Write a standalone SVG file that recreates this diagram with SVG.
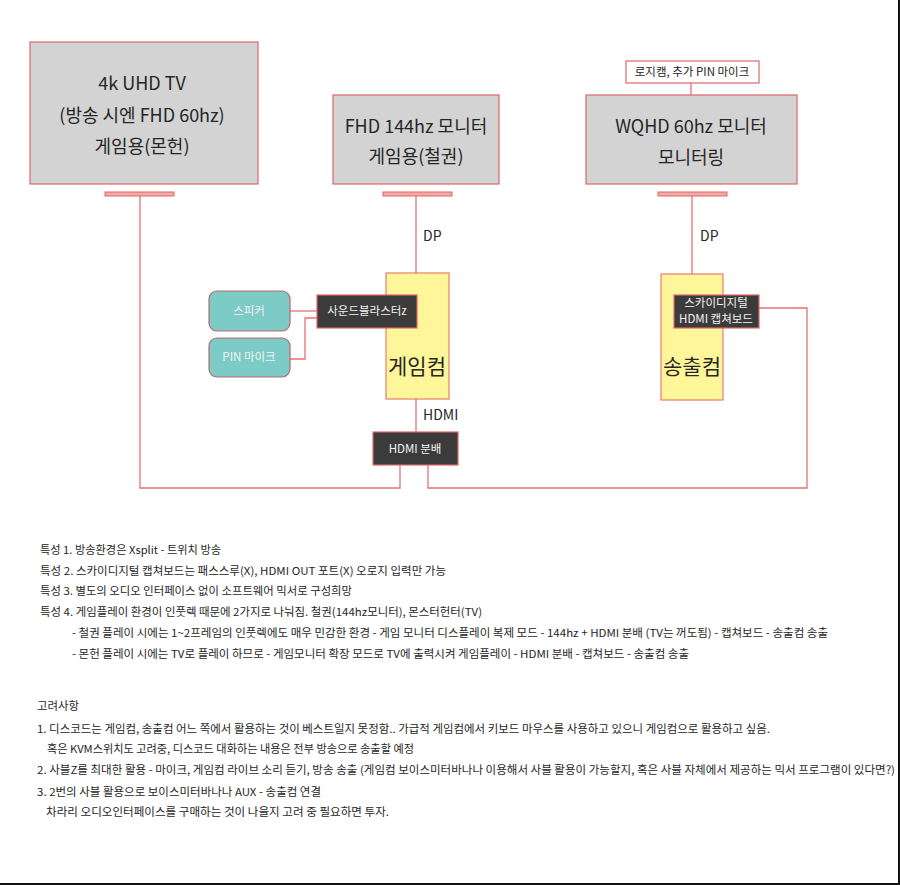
<svg xmlns="http://www.w3.org/2000/svg" width="900" height="885" viewBox="0 0 900 885">
<style>
text{font-family:"Noto Sans CJK KR","Noto Sans",sans-serif;fill:#262626}
.mon{fill:#d3d3d3;stroke:#e06666;stroke-width:1.2}
.stand{fill:#f2a9a9;stroke:#e06666;stroke-width:1}
.pc{fill:#fff599;stroke:#ea7d6a;stroke-width:1.2}
.dark{fill:#3b3b3b;stroke:#e06666;stroke-width:1.2}
.teal{fill:#7ccbc6;stroke:#b86a6a;stroke-width:1.2}
.lbl{fill:#fff;stroke:#e06666;stroke-width:1.2}
.c{fill:none;stroke:#e57373;stroke-width:1.3}
.big{font-size:18px;text-anchor:middle}
.wt{fill:#f2f2f2;font-size:11.5px;text-anchor:middle}
.sm{font-size:11px}
.mid{font-size:14px}
</style>
<rect x="0" y="0" width="900" height="885" fill="#fff"/>
<g id="connectors">
<path class="c" d="M140 196 V488 H400 V465"/>
<path class="c" d="M428 465 V488 H807 V308 H759"/>
<path class="c" d="M416 196 V273"/>
<path class="c" d="M416 399 V432"/>
<path class="c" d="M692 196 V274"/>
<path class="c" d="M691 83 V95"/>
<path class="c" d="M290 311 H317"/>
<path class="c" d="M290 359 H305 V318 H317"/>
</g>
<g id="tv">
<rect class="mon" x="30" y="42" width="228" height="142"/>
<rect class="stand" x="105" y="192" width="69" height="4"/>
<text class="big" x="142" y="90">4k UHD TV</text>
<text class="big" x="142" y="122">(방송 시엔 FHD 60hz)</text>
<text class="big" x="142" y="153">게임용(몬헌)</text>
</g>
<g id="fhd">
<rect class="mon" x="333" y="95" width="166" height="89"/>
<rect class="stand" x="383" y="192" width="69" height="4"/>
<text class="big" x="416" y="133">FHD 144hz 모니터</text>
<text class="big" x="416" y="163">게임용(철권)</text>
</g>
<g id="wqhd">
<rect class="mon" x="586" y="95" width="211" height="89"/>
<rect class="stand" x="658" y="192" width="69" height="4"/>
<text class="big" x="691" y="133">WQHD 60hz 모니터</text>
<text class="big" x="691" y="164">모니터링</text>
</g>
<g id="logicam">
<rect class="lbl" x="626" y="61" width="133" height="22"/>
<text x="692" y="76" font-size="11.5" text-anchor="middle">로지캠, 추가 PIN 마이크</text>
</g>
<g id="dp1"><text class="mid" x="423" y="241">DP</text></g>
<g id="dp2"><text class="mid" x="700" y="241">DP</text></g>
<g id="hdmi-label"><text class="mid" x="423" y="420">HDMI</text></g>
<g id="gamepc">
<rect class="pc" x="386" y="273" width="63" height="126"/>
<text x="417" y="374" font-size="21" text-anchor="middle">게임컴</text>
</g>
<g id="broadcastpc">
<rect class="pc" x="661" y="274" width="62" height="126"/>
<text x="692" y="374" font-size="21" text-anchor="middle">송출컴</text>
</g>
<g id="soundblaster">
<rect class="dark" x="317" y="295" width="100" height="33"/>
<text class="wt" x="367" y="315">사운드블라스터z</text>
</g>
<g id="capture">
<rect class="dark" x="674" y="295" width="85" height="33"/>
<text class="wt" x="716" y="307">스카이디지털</text>
<text class="wt" x="716" y="323">HDMI 캡쳐보드</text>
</g>
<g id="speaker">
<rect class="teal" x="209" y="291" width="81" height="40" rx="8"/>
<text class="wt" x="249" y="315">스피커</text>
</g>
<g id="pinmic">
<rect class="teal" x="209" y="338" width="81" height="39" rx="8"/>
<text class="wt" x="249" y="361">PIN 마이크</text>
</g>
<g id="hdmisplit">
<rect class="dark" x="373" y="432" width="85" height="33"/>
<text class="wt" x="415" y="453">HDMI 분배</text>
</g>
<g id="notes">
<text class="sm" x="40" y="554" textLength="181" lengthAdjust="spacingAndGlyphs">특성 1. 방송환경은 Xsplit - 트위치 방송</text>
<text class="sm" x="40" y="575" textLength="406" lengthAdjust="spacingAndGlyphs">특성 2. 스카이디지털 캡쳐보드는 패스스루(X), HDMI OUT 포트(X) 오로지 입력만 가능</text>
<text class="sm" x="40" y="595" textLength="312" lengthAdjust="spacingAndGlyphs">특성 3. 별도의 오디오 인터페이스 없이 소프트웨어 믹서로 구성희망</text>
<text class="sm" x="40" y="616" textLength="442" lengthAdjust="spacingAndGlyphs">특성 4. 게임플레이 환경이 인풋렉 때문에 2가지로 나눠짐. 철권(144hz모니터), 몬스터헌터(TV)</text>
<text class="sm" x="72" y="637" textLength="756" lengthAdjust="spacingAndGlyphs">- 철권 플레이 시에는 1~2프레임의 인풋렉에도 매우 민감한 환경 - 게임 모니터 디스플레이 복제 모드 - 144hz + HDMI 분배 (TV는 꺼도됨) - 캡쳐보드 - 송출컴 송출</text>
<text class="sm" x="72" y="658" textLength="617" lengthAdjust="spacingAndGlyphs">- 몬헌 플레이 시에는 TV로 플레이 하므로 - 게임모니터 확장 모드로 TV에 출력시켜 게임플레이 - HDMI 분배 - 캡쳐보드 - 송출컴 송출</text>
<text class="sm" x="37" y="710" textLength="42" lengthAdjust="spacingAndGlyphs">고려사항</text>
<text class="sm" x="37" y="733" textLength="733" lengthAdjust="spacingAndGlyphs">1. 디스코드는 게임컴, 송출컴 어느 쪽에서 활용하는 것이 베스트일지 못정함.. 가급적 게임컴에서 키보드 마우스를 사용하고 있으니 게임컴으로 활용하고 싶음.</text>
<text class="sm" x="47" y="753" textLength="367" lengthAdjust="spacingAndGlyphs">혹은 KVM스위치도 고려중, 디스코드 대화하는 내용은 전부 방송으로 송출할 예정</text>
<text class="sm" x="37" y="774" textLength="858" lengthAdjust="spacingAndGlyphs">2. 사블Z를 최대한 활용 - 마이크, 게임컴 라이브 소리 듣기, 방송 송출 (게임컴 보이스미터바나나 이용해서 사블 활용이 가능할지, 혹은 사블 자체에서 제공하는 믹서 프로그램이 있다면?)</text>
<text class="sm" x="37" y="796" textLength="284" lengthAdjust="spacingAndGlyphs">3. 2번의 사블 활용으로 보이스미터바나나 AUX - 송출컴 연결</text>
<text class="sm" x="46" y="816" textLength="343" lengthAdjust="spacingAndGlyphs">차라리 오디오인터페이스를 구매하는 것이 나을지 고려 중 필요하면 투자.</text>
</g>
<path d="M899 0 V884 H0" fill="none" stroke="#111" stroke-width="2"/>
</svg>
